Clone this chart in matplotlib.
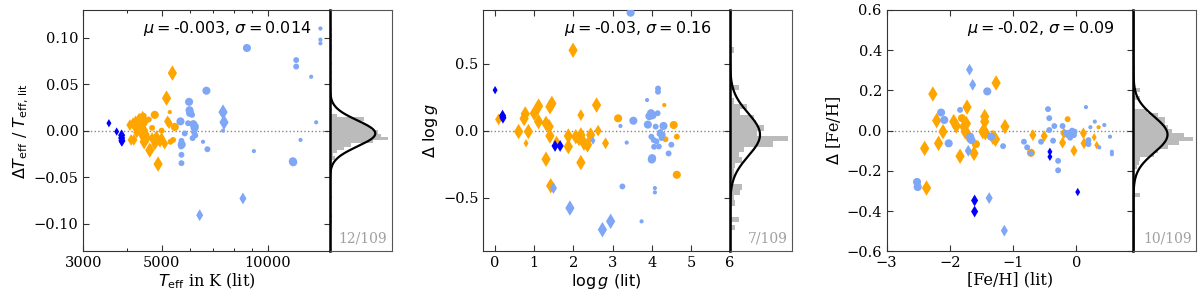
"""Literature comparison of Teff, logg and [Fe/H] with side histograms."""

import numpy as np
import matplotlib
matplotlib.use("Agg")
import matplotlib.pyplot as plt
from matplotlib.ticker import FixedLocator, ScalarFormatter, NullFormatter, LogLocator

plt.rcParams["font.family"] = "DejaVu Serif"
plt.rcParams["mathtext.fontset"] = "dejavusans"

ORANGE = "#FFA500"
LIGHT = "#7FA7F5"
BLUE = "#0000FF"
HIST_GREY = "#BBBBBB"
SIZES = {"d": {"L": 62, "M": 36, "S": 18}, "o": {"L": 34, "M": 18, "S": 9}}

# ---------------- Teff panel ----------------
teff_bd_x = [3546, 3730, 3853, 3853, 3860, 3850]
teff_bd_y = [0.008, -0.001, -0.005, -0.008, -0.011, -0.012]
teff_bd_s = ["S", "S", "M", "M", "M", "S"]

teff_od_x = [4066, 4100, 4150, 4172, 4200, 4220, 4250, 4290, 4300, 4340, 4360, 4380,
             4400, 4420, 4440, 4462, 4480, 4500, 4520, 4560, 4630, 4700, 4750, 4782,
             4835, 4887, 4900, 4950, 5000, 5100, 5164, 5200, 5250, 5365]
teff_od_y = [0.006, -0.010, 0.008, -0.010, 0.004, 0.010, -0.002, 0.004, 0.012, 0.013,
             0.006, -0.004, 0.002, 0.015, 0.008, -0.012, 0.000, 0.010, -0.004, -0.008,
             -0.021, -0.008, -0.011, -0.015, -0.006, -0.036, -0.010, -0.012, -0.008,
             -0.014, 0.035, 0.010, 0.008, 0.062]
teff_od_s = ["M", "M", "M", "M", "M", "M", "M", "M", "M", "M", "M", "M",
             "M", "M", "M", "L", "M", "M", "M", "M", "L", "M", "M", "M",
             "M", "L", "M", "M", "M", "M", "L", "M", "M", "L"]

teff_oc_x = [4450, 4600, 4700, 4782, 5000, 5275, 5300, 5390, 5450]
teff_oc_y = [0.016, 0.012, 0.003, 0.017, 0.000, 0.020, -0.012, -0.010, 0.004]
teff_oc_s = ["M", "M", "M", "L", "M", "S", "M", "M", "L"]

teff_lc_x = [5655, 5982, 6000, 6020, 6100, 5942, 6150, 6200, 6250, 6180, 6230, 6120,
             5815, 5692, 5700, 5680, 5692, 5692, 6552, 6741, 6699, 7465, 9129, 8724,
             11770, 11800, 12032, 12032, 12373, 13266, 13705, 14090, 14090, 14090]
teff_lc_y = [0.010, 0.031, 0.022, 0.019, 0.017, 0.008, 0.007, 0.003, 0.005, -0.002,
             -0.005, -0.008, -0.003, -0.011, -0.015, -0.017, -0.026, -0.035, -0.012,
             -0.020, 0.043, 0.000, -0.022, 0.089, -0.033, -0.034, 0.076, 0.069, -0.010,
             0.058, 0.009, 0.110, 0.098, 0.094]
teff_lc_s = ["L", "L", "L", "L", "M", "M", "L", "L", "M", "M", "M", "M",
             "M", "M", "L", "M", "M", "M", "S", "M", "L", "S", "S", "L",
             "L", "L", "M", "M", "S", "S", "S", "S", "S", "S"]

teff_ld_x = [7465, 7513, 6411, 8499]
teff_ld_y = [0.020, 0.009, -0.091, -0.073]
teff_ld_s = ["L", "L", "M", "M"]

# histogram of Teff residuals (bin centres, counts)
teff_hist_c = [0.109, 0.102, 0.097, 0.092, 0.088, 0.072, 0.063, 0.054, 0.030, 0.023,
               0.0160, 0.0125, 0.0090, 0.0055, 0.0020, -0.0015, -0.0050, -0.0085,
               -0.0120, -0.0155, -0.0190, -0.0225, -0.0260, -0.0295, -0.0330,
               -0.072, -0.092, -0.098]
teff_hist_n = [1, 1, 1, 1, 1, 1, 1, 1, 1, 1,
               4, 20, 18, 22, 24, 28, 30, 34,
               25, 12, 8, 4, 2, 3, 1,
               1, 1, 1]

# ---------------- logg panel ----------------
logg_bd_x = [0.00, 0.19, 0.20, 1.53, 1.66]
logg_bd_y = [0.302, 0.112, 0.096, -0.114, -0.114]
logg_bd_s = ["S", "M", "M", "M", "M"]

logg_od_x = [0.09, 0.60, 0.74, 0.77, 0.79, 0.85, 1.00, 1.11, 1.11, 1.30, 1.30, 1.38,
             1.40, 1.45, 1.40, 1.42, 1.57, 1.87, 1.87, 1.99, 2.06, 2.14, 2.19, 2.19,
             2.19, 2.27, 2.36, 2.44, 2.59, 2.63, 2.82]
logg_od_y = [0.084, -0.007, 0.090, 0.125, -0.094, -0.007, 0.129, 0.183, 0.067, 0.054,
             -0.213, 0.030, 0.178, 0.203, -0.040, -0.411, -0.082, -0.040, -0.119,
             0.599, -0.045, -0.057, -0.032, 0.116, -0.238, -0.094, -0.106, -0.032,
             0.191, 0.000, -0.094]
logg_od_s = ["M", "L", "L", "L", "S", "L", "L", "L", "L", "L", "L", "L",
             "L", "L", "L", "L", "M", "L", "L", "L", "L", "L", "L", "M",
             "L", "L", "L", "L", "L", "M", "M"]

logg_oc_x = [3.14, 4.32, 4.35, 4.56, 4.64, 4.64]
logg_oc_y = [0.092, 0.191, -0.064, 0.042, -0.045, -0.329]
logg_oc_s = ["L", "S", "M", "L", "M", "L"]

logg_lc_x = [3.46, 3.20, 3.36, 3.53, 3.25, 3.74, 3.88, 4.16, 4.16, 3.94, 3.98, 4.02,
             3.90, 4.10, 4.15, 3.99, 4.05, 4.20, 4.25, 4.18, 4.06, 4.01, 4.00, 4.43,
             4.50, 4.08, 4.08, 4.30, 4.22, 4.12, 4.28]
logg_lc_y = [0.879, 0.035, -0.089, 0.074, -0.416, -0.676, 0.228, 0.314, 0.290, 0.108,
             0.130, 0.115, 0.045, 0.030, 0.130, -0.045, -0.070, -0.025, -0.055, -0.118,
             -0.120, -0.205, -0.215, -0.170, -0.105, -0.428, -0.460, 0.035, -0.010,
             -0.080, -0.030]
logg_lc_s = ["L", "S", "S", "L", "M", "S", "S", "M", "M", "L", "L", "L",
             "L", "M", "M", "M", "M", "M", "M", "M", "M", "L", "L", "M",
             "M", "S", "S", "L", "M", "M", "M"]

logg_ld_x = [1.49, 1.91, 2.74, 2.95, 2.50]
logg_ld_y = [-0.428, -0.577, -0.738, -0.676, -0.074]
logg_ld_s = ["M", "L", "L", "L", "S"]

logg_hist_c = [0.88, 0.60, 0.32, 0.22, 0.18, 0.14, 0.10, 0.06, 0.02, -0.02, -0.06,
               -0.10, -0.14, -0.18, -0.22, -0.26, -0.30, -0.34, -0.42, -0.46, -0.50,
               -0.54, -0.66, -0.72]
logg_hist_n = [1, 2, 5, 2, 10, 6, 14, 15, 20, 16, 34,
               25, 8, 5, 7, 3, 2, 3, 7, 6, 2,
               3, 5, 3]

# ---------------- [Fe/H] panel ----------------
feh_bd_x = [-1.61, -1.61, -0.42, -0.42, 0.02]
feh_bd_y = [-0.347, -0.402, -0.105, -0.130, -0.305]
feh_bd_s = ["M", "M", "S", "S", "S"]

feh_od_x = [-2.27, -2.21, -2.18, -2.40, -2.37, -2.11, -1.94, -1.90, -1.84, -1.78,
            -1.76, -1.74, -1.72, -1.73, -1.62, -1.45, -1.45, -1.48, -1.44, -1.27,
            -1.32, -1.28, -1.13, -0.69, -0.51, -0.22, -0.20, -0.04, 0.11, 0.12,
            0.28, 0.32]
feh_od_y = [0.182, 0.050, -0.063, -0.088, -0.285, -0.005, 0.045, 0.023, -0.127, 0.020,
            -0.005, 0.035, -0.020, 0.117, -0.113, 0.070, 0.045, -0.005, -0.010, 0.237,
            -0.033, -0.043, 0.020, -0.022, -0.027, -0.060, -0.013, -0.100, -0.013,
            -0.063, -0.033, -0.072]
feh_od_s = ["L", "L", "L", "L", "L", "L", "L", "L", "L", "L",
            "L", "L", "L", "L", "L", "L", "L", "L", "L", "L",
            "L", "L", "L", "M", "M", "M", "M", "M", "M", "M",
            "S", "S"]

feh_oc_x = [-1.81, -1.59, -0.72, -0.14, 0.35]
feh_oc_y = [0.062, -0.067, -0.110, 0.057, 0.017]
feh_oc_s = ["L", "L", "L", "M", "S"]

feh_lc_x = [-2.52, -2.51, -2.14, -2.09, -2.02, -1.84, -1.68, -1.66, -1.41, -1.35,
            -1.16, -0.83, -0.78, -0.72, -0.56, -0.45, -0.43, -0.43, -0.35, -0.37,
            -0.29, -0.29, -0.22, -0.14, -0.11, -0.07, -0.04, -0.03, -0.10, -0.17,
            0.15, 0.19, 0.19, 0.22, 0.29, 0.36, 0.44, 0.53, 0.56, 0.56]
feh_lc_y = [-0.255, -0.280, 0.090, 0.053, -0.063, 0.103, -0.030, -0.047, 0.195,
            -0.030, -0.077, -0.055, -0.083, -0.113, -0.055, 0.107, 0.062, 0.003,
            0.023, -0.050, -0.150, -0.197, 0.023, -0.022, -0.010, 0.000, -0.022,
            -0.005, -0.035, -0.010, 0.117, -0.047, -0.067, 0.017, 0.045, -0.083,
            0.028, -0.030, -0.105, -0.117]
feh_lc_s = ["L", "L", "L", "L", "L", "M", "L", "L", "L", "L",
            "M", "M", "M", "M", "M", "M", "M", "M", "M", "M",
            "M", "M", "M", "M", "M", "M", "M", "M", "M", "M",
            "S", "M", "M", "S", "S", "S", "S", "S", "S", "S"]

feh_ld_x = [-1.69, -1.64, -1.71, -1.38, -1.14]
feh_ld_y = [0.303, 0.228, -0.100, -0.335, -0.497]
feh_ld_s = ["M", "M", "M", "M", "M"]

feh_hist_c = [0.31, 0.25, 0.20, 0.16, 0.10, 0.08, 0.06, 0.04, 0.02, 0.00, -0.02, -0.04,
              -0.06, -0.08, -0.10, -0.12, -0.14, -0.16, -0.18, -0.26, -0.32, -0.40,
              -0.49]
feh_hist_n = [1, 1, 4, 4, 8, 14, 18, 18, 20, 22, 29, 34,
              26, 20, 14, 12, 4, 3, 2, 1, 4, 1,
              1]

# fitted gaussians and outlier counts
stats_mu = [-0.003, -0.03, -0.02]
stats_sigma = [0.014, 0.16, 0.09]
stats_label = ["12/109", "7/109", "10/109"]
gauss_peak = [26.5, 17.5, 19.5]
hist_binw = [0.0035, 0.04, 0.02]


def scatter_groups(ax, groups):
    for x, y, s, marker, color in groups:
        sizes = [SIZES[marker][k] for k in s]
        ax.scatter(x, y, s=sizes, marker=marker, c=color, edgecolors="none", zorder=3)


def style_main(ax):
    ax.tick_params(direction="in", top=True, right=True, labelsize=10.5,
                   length=4, color="#333333")
    ax.tick_params(which="minor", direction="in", top=True, right=True, length=2.5)
    for sp in ax.spines.values():
        sp.set_color("#333333")
        sp.set_linewidth(0.8)
    ax.axhline(0, color="#888888", ls=":", lw=1, zorder=1)


def side_hist(ax, i, centres, counts, ylim):
    ax.barh(centres, counts, height=hist_binw[i], color=HIST_GREY, linewidth=0)
    yy = np.linspace(ylim[0], ylim[1], 400)
    gg = gauss_peak[i] * np.exp(-0.5 * ((yy - stats_mu[i]) / stats_sigma[i]) ** 2)
    ax.plot(gg, yy, color="k", lw=1.6)
    ax.set_xlim(0, 36)
    ax.set_ylim(*ylim)
    ax.set_xticks([])
    ax.set_yticks([])
    for sp in ax.spines.values():
        sp.set_color("#555555")
        sp.set_linewidth(0.8)
    ax.spines["left"].set_color("k")
    ax.spines["left"].set_linewidth(1.8)
    ax.text(0.93, 0.025, stats_label[i], transform=ax.transAxes, ha="right",
            va="bottom", color="#A0A0A0", fontsize=10)


def stats_text(ax, i, fmt):
    txt = r"$\mu=$" + fmt.format(stats_mu[i]) + r", $\sigma=$" + fmt.format(stats_sigma[i])
    ax.text(0.925, 0.925, txt, transform=ax.transAxes, ha="right", va="center",
            fontsize=11.5, family="DejaVu Sans")


fig = plt.figure(figsize=(12, 3), dpi=100)
bottom, height = 0.162, 0.805
main_w = 0.2056
lefts = [0.0694, 0.4028, 0.7389]
hist_w = [0.0513, 0.0513, 0.0525]

# --- Teff ---
ax1 = fig.add_axes([lefts[0], bottom, main_w, height])
scatter_groups(ax1, [
    (teff_od_x, teff_od_y, teff_od_s, "d", ORANGE),
    (teff_oc_x, teff_oc_y, teff_oc_s, "o", ORANGE),
    (teff_lc_x, teff_lc_y, teff_lc_s, "o", LIGHT),
    (teff_ld_x, teff_ld_y, teff_ld_s, "d", LIGHT),
    (teff_bd_x, teff_bd_y, teff_bd_s, "d", BLUE),
])
ax1.set_xscale("log")
ax1.set_xlim(3000, 15000)
ax1.set_ylim(-0.13, 0.13)
ax1.xaxis.set_major_locator(FixedLocator([3000, 5000, 10000]))
ax1.xaxis.set_major_formatter(ScalarFormatter())
ax1.xaxis.set_minor_locator(LogLocator(subs=np.arange(2, 10)))
ax1.xaxis.set_minor_formatter(NullFormatter())
ax1.set_yticks([-0.10, -0.05, 0.0, 0.05, 0.10])
style_main(ax1)
stats_text(ax1, 0, "{:.3f}")
ax1.set_xlabel(r"$T_{\rm eff}$ in K (lit)", fontsize=11.5, labelpad=1)
ax1.set_ylabel(r"$\Delta T_{\rm eff}$ / $T_{\rm eff,\,lit}$", fontsize=11.5, labelpad=2)
h1 = fig.add_axes([lefts[0] + main_w, bottom, hist_w[0], height])
side_hist(h1, 0, teff_hist_c, teff_hist_n, ax1.get_ylim())

# --- logg ---
ax2 = fig.add_axes([lefts[1], bottom, main_w, height])
scatter_groups(ax2, [
    (logg_od_x, logg_od_y, logg_od_s, "d", ORANGE),
    (logg_oc_x, logg_oc_y, logg_oc_s, "o", ORANGE),
    (logg_lc_x, logg_lc_y, logg_lc_s, "o", LIGHT),
    (logg_ld_x, logg_ld_y, logg_ld_s, "d", LIGHT),
    (logg_bd_x, logg_bd_y, logg_bd_s, "d", BLUE),
])
ax2.set_xlim(-0.3, 6)
ax2.set_ylim(-0.9, 0.9)
ax2.set_xticks(range(7))
ax2.set_yticks([-0.5, 0.0, 0.5])
style_main(ax2)
stats_text(ax2, 1, "{:.2f}")
ax2.set_xlabel(r"$\log g$ (lit)", fontsize=11.5, family="DejaVu Sans", labelpad=1)
ax2.set_ylabel(r"$\Delta$ $\log g$", fontsize=11.5, family="DejaVu Sans", labelpad=2)
h2 = fig.add_axes([lefts[1] + main_w, bottom, hist_w[1], height])
side_hist(h2, 1, logg_hist_c, logg_hist_n, ax2.get_ylim())

# --- [Fe/H] ---
ax3 = fig.add_axes([lefts[2], bottom, main_w, height])
scatter_groups(ax3, [
    (feh_od_x, feh_od_y, feh_od_s, "d", ORANGE),
    (feh_oc_x, feh_oc_y, feh_oc_s, "o", ORANGE),
    (feh_lc_x, feh_lc_y, feh_lc_s, "o", LIGHT),
    (feh_ld_x, feh_ld_y, feh_ld_s, "d", LIGHT),
    (feh_bd_x, feh_bd_y, feh_bd_s, "d", BLUE),
])
ax3.set_xlim(-3, 0.9)
ax3.set_ylim(-0.6, 0.6)
ax3.set_xticks([-3, -2, -1, 0])
ax3.set_yticks([-0.6, -0.4, -0.2, 0.0, 0.2, 0.4, 0.6])
style_main(ax3)
stats_text(ax3, 2, "{:.2f}")
ax3.set_xlabel("[Fe/H] (lit)", fontsize=11.5, labelpad=1)
ax3.set_ylabel(r"$\Delta$ [Fe/H]", fontsize=11.5, labelpad=2)
h3 = fig.add_axes([lefts[2] + main_w, bottom, hist_w[2], height])
side_hist(h3, 2, feh_hist_c, feh_hist_n, ax3.get_ylim())

fig.savefig("out.png", dpi=100)
